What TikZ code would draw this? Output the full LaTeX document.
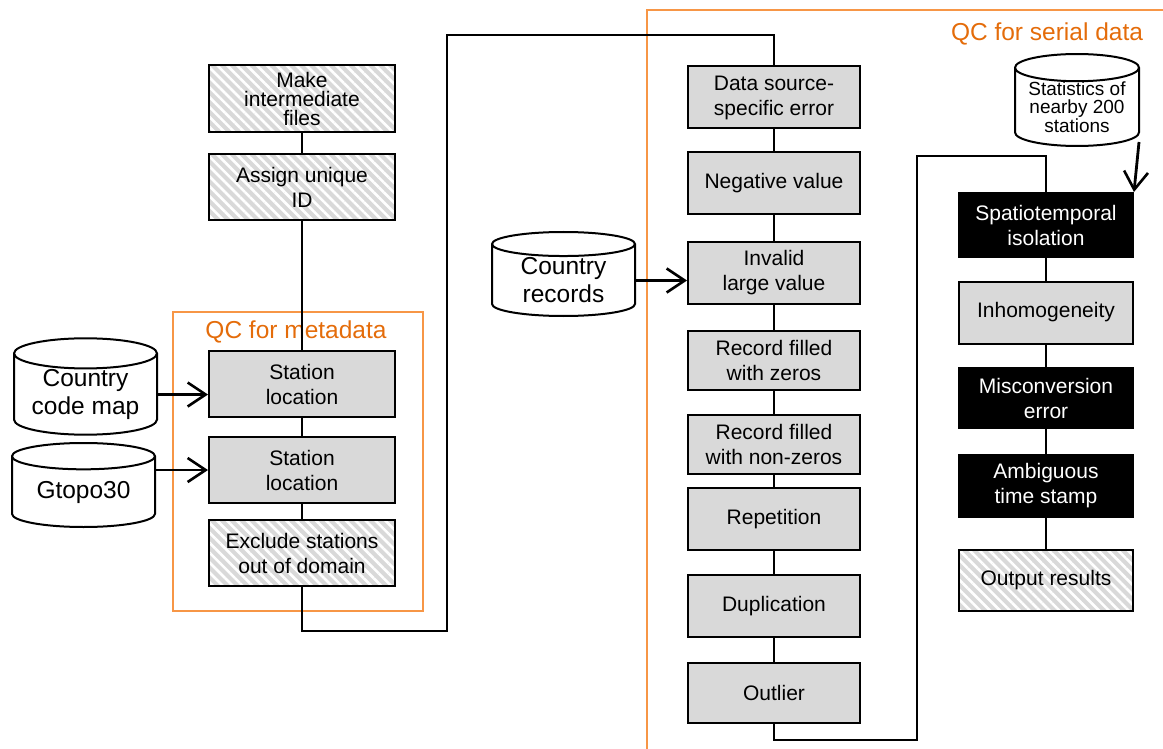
\documentclass[tikz,border=0pt]{standalone}
\usepackage{fontspec}
\setmainfont{Liberation Sans}
\usetikzlibrary{shapes.geometric,arrows.meta,patterns.meta}
\definecolor{boxgray}{RGB}{217,217,217}
\definecolor{qcorange}{RGB}{247,150,70}
\definecolor{qctext}{RGB}{228,108,10}

\begin{document}
\begin{tikzpicture}[x=1pt,y=-1pt]
  \tikzstyle{every node}=[align=center,inner sep=0pt,font=\fontsize{21}{25}\selectfont]
  \tikzstyle{base}=[rectangle,draw,line width=2pt]
  \tikzstyle{graybox}=[base,fill=boxgray]
  \tikzstyle{hatchbox}=[base,preaction={fill=boxgray},pattern={Lines[angle=-45,distance=7pt,line width=2.6pt]},pattern color=white]
  \tikzstyle{blackbox}=[base,fill=black,text=white]
  \tikzstyle{leftsize}=[minimum width=186pt,minimum height=66pt]
  \tikzstyle{midsize}=[minimum width=172pt,minimum height=62pt]
  \tikzstyle{rightsize}=[minimum width=174pt,minimum height=62pt]
  \tikzstyle{store}=[cylinder,shape border rotate=90,anchor=shape center,draw,line width=2pt,aspect=0.28,font=\fontsize{24.5}{28}\selectfont]
  \tikzstyle{qcframe}=[draw=qcorange,line width=2.5pt]
  \tikzstyle{qclabel}=[text=qctext,font=\fontsize{24.5}{28}\selectfont]
  \tikzstyle{link}=[line width=2.8pt]
  \tikzstyle{feed}=[link,-{Straight Barb[length=18pt,width=24pt,line width=2.6pt]}]
  \useasboundingbox (0,0) rectangle (1163,749);

  % frames of the two QC stages
  \draw[qcframe] (173,312) rectangle (423,611);
  \draw[qcframe] (1163,10) -- (647,10) -- (647,749);
  \node[qclabel] (qcmeta) at (296,332) {QC for metadata};
  \node[qclabel] (qcserial) at (1047,34) {QC for serial data};

  % preparation and metadata
  \node[hatchbox,leftsize,minimum height=67pt,font=\fontsize{21}{19}\selectfont] (make) at (302,98.5) {Make\\intermediate\\files};
  \node[hatchbox,leftsize] (assign) at (302,187) {Assign unique\\ID};
  \node[graybox,leftsize] (stloc1) at (302,384) {Station\\location};
  \node[graybox,leftsize] (stloc2) at (302,470) {Station\\location};
  \node[hatchbox,leftsize] (exclude) at (302,553) {Exclude stations\\out of domain};

  \node[store,minimum width=143pt,minimum height=87pt] (ccmap) at (85.5,386.5) {Country\\code map};
  \node[store,minimum width=143pt,minimum height=84pt] (gtopo) at (83.5,485) {Gtopo30};

  % serial data checks
  \node[graybox,midsize] (dsrc) at (774,97.5) {Data source-\\specific error};
  \node[graybox,midsize] (negval) at (774,183.5) {Negative value};
  \node[graybox,midsize] (invalid) at (774,272.5) {Invalid\\large value};
  \node[graybox,midsize,minimum height=59pt] (zeros) at (774,360.5) {Record filled\\with zeros};
  \node[graybox,midsize,minimum height=59pt] (nonzeros) at (774,444.5) {Record filled\\with non-zeros};
  \node[graybox,midsize] (repet) at (774,519) {Repetition};
  \node[graybox,midsize] (dupl) at (774,606) {Duplication};
  \node[graybox,midsize,minimum height=60pt] (outlier) at (774,693) {Outlier};

  \node[store,minimum width=143pt,minimum height=84pt] (crecords) at (563.5,274) {Country\\records};

  \node[blackbox,rightsize,minimum height=64pt] (spatio) at (1046,225) {Spatiotemporal\\isolation};
  \node[graybox,rightsize] (inhomo) at (1046,312.5) {Inhomogeneity};
  \node[blackbox,rightsize,minimum height=60pt] (misconv) at (1046,398) {Misconversion\\error};
  \node[blackbox,rightsize] (ambig) at (1046,486) {Ambiguous\\time stamp};
  \node[hatchbox,rightsize,minimum height=61pt] (output) at (1046,580.5) {Output results};

  \node[store,minimum width=124pt,minimum height=86pt,font=\fontsize{19}{17.5}\selectfont] (stats) at (1077,100) {Statistics of\\nearby 200\\stations};

  % connectors
  \coordinate (jumpA) at (447,631);
  \coordinate (jumpB) at (447,35);
  \coordinate (jumpC) at (917,740);
  \coordinate (jumpD) at (917,156);
  \draw[link] (make) -- (assign) -- (stloc1) -- (stloc2) -- (exclude);
  \draw[link] (exclude.south) |- (jumpA) -- (jumpB) -| (dsrc.north);
  \draw[link] (dsrc) -- (negval) -- (invalid) -- (zeros) -- (nonzeros) -- (repet) -- (dupl) -- (outlier);
  \draw[link] (outlier.south) |- (jumpC) -- (jumpD) -| (spatio.north);
  \draw[link] (spatio) -- (inhomo) -- (misconv) -- (ambig) -- (output);
  \draw[feed] (ccmap.east) -- (ccmap.east -| stloc1.west);
  \draw[feed] (stloc2.west -| gtopo.east) -- (stloc2.west);
  \draw[feed] (crecords.east) -- (crecords.east -| invalid.west);
  \draw[feed] ([xshift=-1pt,yshift=5pt]stats.east |- stats.south) -- (spatio.north east);
\end{tikzpicture}
\end{document}
